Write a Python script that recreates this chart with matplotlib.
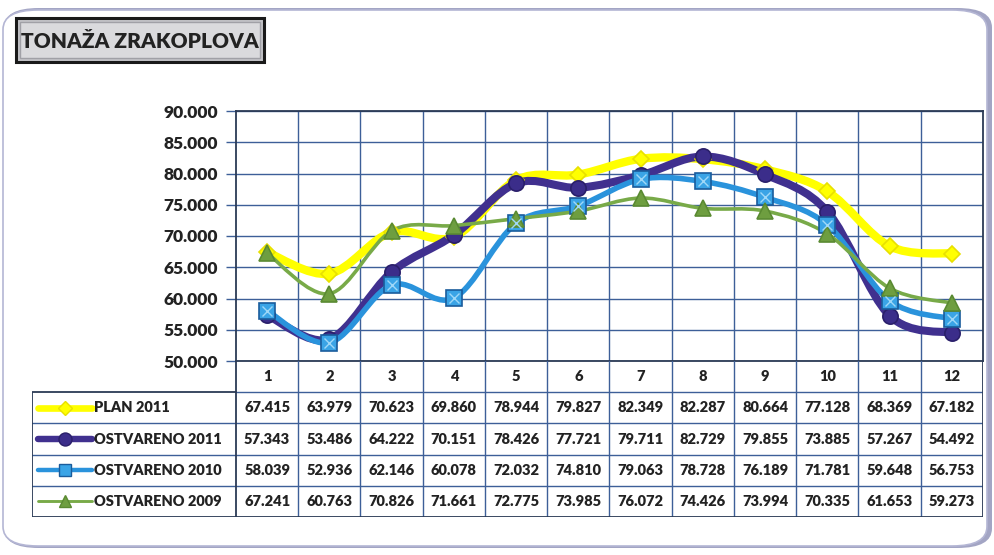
import matplotlib.pyplot as plt
import numpy as np
from matplotlib.path import Path
from matplotlib.patches import PathPatch, FancyBboxPatch

plt.rcParams['font.family'] = ['Lato', 'DejaVu Sans']
plt.rcParams['font.weight'] = 'heavy'

# data (tonnes, thousands separated by '.')
months = np.arange(1, 13)
plan_2011 = [67415, 63979, 70623, 69860, 78944, 79827, 82349, 82287, 80664, 77128, 68369, 67182]
ostv_2011 = [57343, 53486, 64222, 70151, 78426, 77721, 79711, 82729, 79855, 73885, 57267, 54492]
ostv_2010 = [58039, 52936, 62146, 60078, 72032, 74810, 79063, 78728, 76189, 71781, 59648, 56753]
ostv_2009 = [67241, 60763, 70826, 71661, 72775, 73985, 76072, 74426, 73994, 70335, 61653, 59273]
names = ['PLAN 2011', 'OSTVARENO 2011', 'OSTVARENO 2010', 'OSTVARENO 2009']
yticks = np.arange(50000, 90001, 5000)

grid_c = '#3d5f98'
edge_c = '#2b3a55'
txt_c = '#222222'
W8 = 'heavy'
styles = [
    dict(color='#ffff00', lw=6.0, marker='D', ms=8, mfc='#ffff00', mec='#e8e000'),
    dict(color='#40308f', lw=5.8, marker='o', ms=11, mfc='#3b2d8a', mec='#2a1f6a'),
    dict(color='#2a93dc', lw=4.0, marker='s', ms=11, mfc='#3aa4e6', mec='#1a5c9c'),
    dict(color='#78aa48', lw=2.6, marker='^', ms=11, mfc='#6e9e40', mec='#5a8a32'),
]
series = [plan_2011, ostv_2011, ostv_2010, ostv_2009]


def fmt(v):
    return '{:,}'.format(v).replace(',', '.')


def smooth_path(x, y):
    # Bezier curve through the points (Catmull-Rom style, like Excel smoothing)
    x = np.asarray(x, float)
    y = np.asarray(y, float)
    px = np.concatenate([[x[0]], x, [x[-1]]])
    py = np.concatenate([[y[0]], y, [y[-1]]])
    verts = [(x[0], y[0])]
    codes = [Path.MOVETO]
    for i in range(1, len(x)):
        c1 = (px[i] + (px[i + 1] - px[i - 1]) / 6, py[i] + (py[i + 1] - py[i - 1]) / 6)
        c2 = (px[i + 1] - (px[i + 2] - px[i]) / 6, py[i + 1] - (py[i + 2] - py[i]) / 6)
        verts += [c1, c2, (px[i + 1], py[i + 1])]
        codes += [Path.CURVE4] * 3
    return Path(verts, codes)


W, H = 995, 555
fig = plt.figure(figsize=(W / 100, H / 100), dpi=100)


def fx(px):
    return px / W


def fy(py):
    return 1 - py / H


# outer panel with shadow on the right
fig.patches.append(FancyBboxPatch((fx(4), fy(548)), fx(988), fy(8) - fy(548),
                                  boxstyle='round,pad=0,rounding_size=0.035', transform=fig.transFigure,
                                  fc='#a3a5c4', ec='none', zorder=-2))
fig.patches.append(FancyBboxPatch((fx(3), fy(546)), fx(984), fy(10) - fy(546),
                                  boxstyle='round,pad=0,rounding_size=0.035', transform=fig.transFigure,
                                  fc='white', ec='#b4b6d4', lw=1.2, zorder=-1))

# title box
fig.patches.append(FancyBboxPatch((fx(16), fy(62)), fx(248), fy(18) - fy(62),
                                  boxstyle='square,pad=0', transform=fig.transFigure,
                                  fc='#c4c4c8', ec='#1a1a1a', lw=2.2, zorder=1))
fig.patches.append(FancyBboxPatch((fx(20), fy(58)), fx(240), fy(22) - fy(58),
                                  boxstyle='square,pad=0', transform=fig.transFigure,
                                  fc='#dadadd', ec='#a0a0a6', lw=1.0, zorder=1.1))
fig.text(fx(140), fy(41), 'TONAŽA ZRAKOPLOVA', ha='center', va='center',
         fontsize=15, fontweight=W8, color=txt_c, zorder=2)

# chart area
left, right, top, bottom = 236, 983, 111, 361
ax = fig.add_axes([fx(left), fy(bottom), fx(right - left), fy(top) - fy(bottom)])
ax.set_zorder(3)
ax.patch.set_alpha(0)
ax.set_xlim(0.5, 12.5)
ax.set_ylim(50000, 90000)
ax.set_yticks(yticks)
ax.set_yticklabels([fmt(v) for v in yticks], fontsize=12.5, fontweight=W8, color=txt_c)
ax.set_xticks([])
for v in yticks:
    ax.axhline(v, color=grid_c, lw=1.0, zorder=1)
for b in np.arange(1.5, 12.5, 1):
    ax.axvline(b, color=grid_c, lw=1.0, zorder=1)
for s in ax.spines.values():
    s.set_color(edge_c)
    s.set_linewidth(1.3)
ax.tick_params(axis='y', length=7, width=1.0, color=grid_c, pad=6)

for vals, st in zip(series, styles):
    ax.add_patch(PathPatch(smooth_path(months, vals), fill=False, ec=st['color'],
                           lw=st['lw'], capstyle='round', joinstyle='round', zorder=3))
    ax.plot(months, vals, ls='none', marker=st['marker'], ms=st['ms'],
            mfc=st['mfc'], mec=st['mec'], mew=1.2, zorder=4)
    if st['marker'] == 's':
        ax.plot(months, vals, ls='none', marker='x', ms=7, mec='#9fd8f8', mew=1.0, zorder=4.1)

# data table
col_w = (right - left) / 12
tleft = 32
x0 = 0.5 - (left - tleft) / col_w
tax = fig.add_axes([fx(tleft), fy(517), fx(right - tleft), fy(361) - fy(517)])
tax.set_zorder(3)
tax.set_xlim(x0, 12.5)
tax.set_ylim(0, 5)
tax.axis('off')
lk = dict(color=grid_c, lw=1.0)
for b in np.arange(1.5, 12.5, 1):
    tax.plot([b, b], [0, 5], **lk)
for r in range(1, 4):
    tax.plot([x0, 12.5], [r, r], **lk)
tax.plot([0.5, 12.5], [4, 4], **lk)
ek = dict(color=edge_c, lw=1.3)
tax.plot([x0, x0, 0.5, 0.5, x0], [0, 4, 4, 0, 0], **ek)
tax.plot([0.5, 0.5], [4, 5], **ek)
tax.plot([0.5, 12.5, 12.5], [0, 0, 5], **ek)
for m in months:
    tax.text(m, 4.5, str(m), ha='center', va='center', fontsize=10.5, fontweight=W8, color=txt_c)
for i, (vals, name, st) in enumerate(zip(series, names, styles)):
    yc = 3.5 - i
    for m, v in zip(months, vals):
        tax.text(m, yc, fmt(v), ha='center', va='center', fontsize=10.5, fontweight=W8, color=txt_c)
    xa = x0 + 6 / col_w
    xb = x0 + 60 / col_w
    tax.plot([xa, xb], [yc, yc], color=st['color'], lw=st['lw'] * 0.8, solid_capstyle='round')
    tax.plot([(xa + xb) / 2], [yc], marker=st['marker'], ms=st['ms'] * 0.85,
             mfc=st['mfc'], mec=st['mec'], mew=1.0)
    tax.text(xb + 2 / col_w, yc, name, ha='left', va='center', fontsize=10.5,
             fontweight=W8, color=txt_c)

fig.savefig('out.png', dpi=100)
